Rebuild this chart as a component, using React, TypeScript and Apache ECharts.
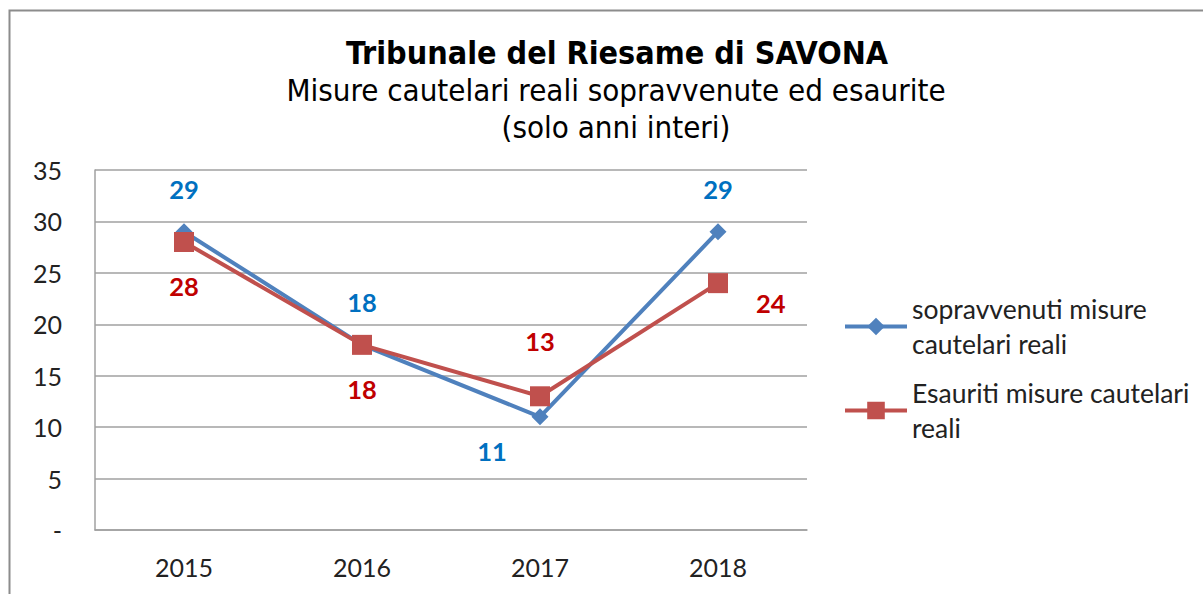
import React, { useEffect, useRef } from "react";
import * as echarts from "echarts";

const categories = ["2015", "2016", "2017", "2018"];
const sopravvenuti = [29, 18, 11, 29];
const esauriti = [28, 18, 13, 24];
const seriesNames = ["sopravvenuti misure cautelari reali", "Esauriti misure cautelari reali"];
const legendLabels: Record<string, string> = {
  "sopravvenuti misure cautelari reali": "sopravvenuti misure\ncautelari reali",
  "Esauriti misure cautelari reali": "Esauriti misure cautelari\nreali",
};
const titleText = "Tribunale del Riesame di SAVONA";
const subtitleText = "Misure cautelari reali sopravvenute ed esaurite\n(solo anni interi)";
const yTicks = { min: 0, max: 35, interval: 5 };

const BLUE = "#4F81BD";
const RED = "#C0504D";
const BLUE_LBL = "#0070C0";
const RED_LBL = "#C00000";
const FONT = "Lato, 'Open Sans', sans-serif";
const TFONT = "'DejaVu Sans Condensed', 'DejaVu Sans', sans-serif";

export default function App() {
  const ref = useRef<HTMLDivElement>(null);
  useEffect(() => {
    if (!ref.current) return;
    const chart = echarts.init(ref.current, null, { renderer: "svg" });
    const lblBase = { show: true, fontSize: 25.5, fontWeight: "bold" as const, fontFamily: FONT };
    const blueLabels = [
      { position: "top", distance: 21 },
      { position: "top", distance: 21 },
      { position: "bottom", distance: 13, offset: [-48, 0] },
      { position: "top", distance: 21 },
    ];
    const redLabels = [
      { position: "bottom", distance: 21 },
      { position: "bottom", distance: 21 },
      { position: "top", distance: 32 },
      { position: "right", distance: 28, offset: [0, 20] },
    ];
    chart.setOption({
      animation: false,
      backgroundColor: "#ffffff",
      title: [
        {
          text: titleText,
          left: 612,
          textAlign: "center",
          top: 29,
          textStyle: { fontFamily: TFONT, fontSize: 32, fontWeight: "bold", color: "#000", lineHeight: 38 },
        },
        {
          text: subtitleText,
          left: 611,
          textAlign: "center",
          top: 66,
          textStyle: { fontFamily: TFONT, fontSize: 31, fontWeight: "normal", color: "#000", lineHeight: 37 },
        },
      ],
      legend: {
        orient: "vertical",
        left: 838,
        top: 269,
        itemGap: -21,
        itemWidth: 62,
        itemHeight: 22,
        data: seriesNames,
        formatter: (n: string) => legendLabels[n] ?? n,
        lineStyle: { width: 4 },
        textStyle: {
          fontFamily: FONT,
          fontSize: 26.5,
          color: "#222",
          lineHeight: 35,
          padding: [35, 0, 0, 0],
        },
      },
      grid: { left: 95, top: 170, right: 396, bottom: 64 },
      xAxis: {
        type: "category",
        data: categories,
        boundaryGap: true,
        axisLine: { show: true, lineStyle: { color: "#a0a0a0", width: 1.5 } },
        axisTick: { show: false },
        axisLabel: { fontFamily: FONT, fontSize: 25, color: "#222", margin: 24 },
      },
      yAxis: {
        type: "value",
        min: yTicks.min,
        max: yTicks.max,
        interval: yTicks.interval,
        axisLine: { show: true, lineStyle: { color: "#a0a0a0", width: 1.5 } },
        axisTick: { show: false },
        splitLine: { show: true, lineStyle: { color: "#a0a0a0", width: 1.5 } },
        axisLabel: {
          fontFamily: FONT,
          fontSize: 25,
          color: "#222",
          margin: 33,
          formatter: (v: number) => (v === 0 ? "-" : String(v)),
        },
      },
      series: [
        {
          name: seriesNames[0],
          type: "line",
          data: sopravvenuti.map((v, i) => ({
            value: v,
            label: { ...lblBase, color: BLUE_LBL, ...blueLabels[i] },
          })),
          symbol: "diamond",
          symbolSize: [17, 17],
          lineStyle: { color: BLUE, width: 4 },
          itemStyle: { color: BLUE },
        },
        {
          name: seriesNames[1],
          type: "line",
          data: esauriti.map((v, i) => ({
            value: v,
            label: { ...lblBase, color: RED_LBL, ...redLabels[i] },
          })),
          symbol: "rect",
          symbolSize: 20,
          lineStyle: { color: RED, width: 4 },
          itemStyle: { color: RED },
        },
      ],
      graphic: [
        {
          type: "rect",
          shape: { x: 9.5, y: 10.5, width: 1400, height: 800 },
          style: { fill: "none", stroke: "#8c8c8c", lineWidth: 2 },
          silent: true,
        },
      ],
    });
    return () => chart.dispose();
  }, []);
  return (
    <div
      ref={ref}
      style={{ position: "fixed", left: 0, top: 0, width: 1203, height: 594 }}
    />
  );
}
